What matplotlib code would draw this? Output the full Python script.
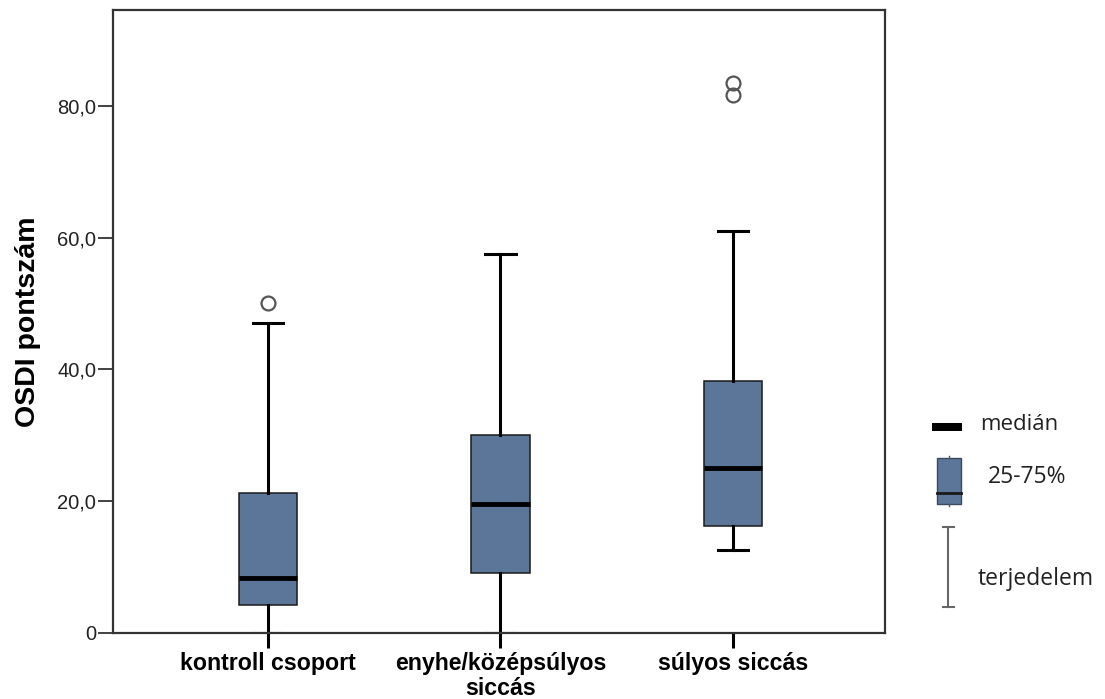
import matplotlib
matplotlib.use("Agg")
import matplotlib.pyplot as plt
from matplotlib.patches import Rectangle
from matplotlib.lines import Line2D

# ---- data ----
categories = ["kontroll csoport", "enyhe/középsúlyos\nsiccás", "súlyos siccás"]
q1 = [4.2, 9.1, 16.2]
median = [8.4, 19.6, 25.0]
q3 = [21.3, 30.0, 38.2]
whisker_low = [0.0, 0.0, 12.6]
whisker_high = [47.0, 57.5, 61.0]
outliers = [[50.0], [], [81.6, 83.5]]
ytick_values = [0, 20, 40, 60, 80]
ytick_labels = ["0", "20,0", "40,0", "60,0", "80,0"]
ylabel = "OSDI pontszám"
legend_labels = ["medián", "25-75%", "terjedelem"]

plt.rcParams['font.family'] = ['Liberation Sans', 'DejaVu Sans']

W, H = 1105, 699
fig = plt.figure(figsize=(W / 100, H / 100), dpi=100)
ax = fig.add_axes([113 / W, 1 - 633 / H, (885 - 113) / W, (633 - 10) / H])

box_color = "#5B7699"
stats = []
for i in range(len(categories)):
    stats.append(dict(med=median[i], q1=q1[i], q3=q3[i], whislo=whisker_low[i],
                      whishi=whisker_high[i], fliers=outliers[i], label=categories[i]))

positions = [1, 2, 3]
ax.bxp(stats, positions=positions, widths=0.25, patch_artist=True,
       capwidths=0.13,
       boxprops=dict(facecolor=box_color, edgecolor="#1a1a1a", linewidth=1.1),
       medianprops=dict(color="black", linewidth=3.5),
       whiskerprops=dict(color="black", linewidth=2.2),
       capprops=dict(color="black", linewidth=2.2),
       flierprops=dict(marker="o", markerfacecolor="none", markeredgecolor="#555555",
                       markersize=10, markeredgewidth=1.6))

ax.set_xlim(1 - (268 - 113) / 232.5, 3 + (885 - 733) / 232.5)
ax.set_ylim(0, (633 - 10) / 6.59)
ax.set_yticks(ytick_values)
ax.set_yticklabels(ytick_labels, fontsize=14.5, color="#222222")
ax.set_xticks(positions)
ax.set_xticklabels(categories, fontsize=16.7, fontweight="bold", color="black",
                   linespacing=1.1)
ax.tick_params(axis="y", direction="out", length=11, width=1.3, color="#333333", pad=1)
ax.tick_params(axis="x", direction="out", length=11, width=2.2, color="black", pad=3)
ax.set_ylabel(ylabel, fontsize=20.5, fontweight="bold", labelpad=12)
for s in ax.spines.values():
    s.set_color("#333333")
    s.set_linewidth(1.6)

# ---- legend drawn in figure pixel space ----
lg = fig.add_axes([0, 0, 1, 1])
lg.set_xlim(0, W)
lg.set_ylim(H, 0)
lg.axis("off")
lg.add_patch(Rectangle((932, 423), 30, 8, facecolor="black", edgecolor="none"))
lg.add_patch(Rectangle((937, 458), 24, 46, facecolor=box_color, edgecolor="#3a4a60", linewidth=1))
lg.add_line(Line2D([937, 961], [493, 493], color="#1a1a1a", linewidth=2))
lg.add_line(Line2D([949, 949], [456, 458], color="#555555", linewidth=1))
lg.add_line(Line2D([949, 949], [504, 506], color="#555555", linewidth=1))
lg.add_line(Line2D([948, 948], [527, 607], color="#666666", linewidth=1.5))
lg.add_line(Line2D([943, 954], [527, 527], color="#666666", linewidth=1.5))
lg.add_line(Line2D([943, 954], [607, 607], color="#666666", linewidth=1.5))
leg_font = ["Open Sans", "DejaVu Sans"]
lg.text(980, 425, legend_labels[0], fontsize=16, va="center", ha="left",
        family=leg_font, color="#222222")
lg.text(988, 477, legend_labels[1], fontsize=16.5, va="center", ha="left",
        family=leg_font, color="#222222")
lg.text(978, 579, legend_labels[2], fontsize=16.5, va="center", ha="left",
        family=leg_font, color="#222222")

fig.savefig("out.png", dpi=100)
